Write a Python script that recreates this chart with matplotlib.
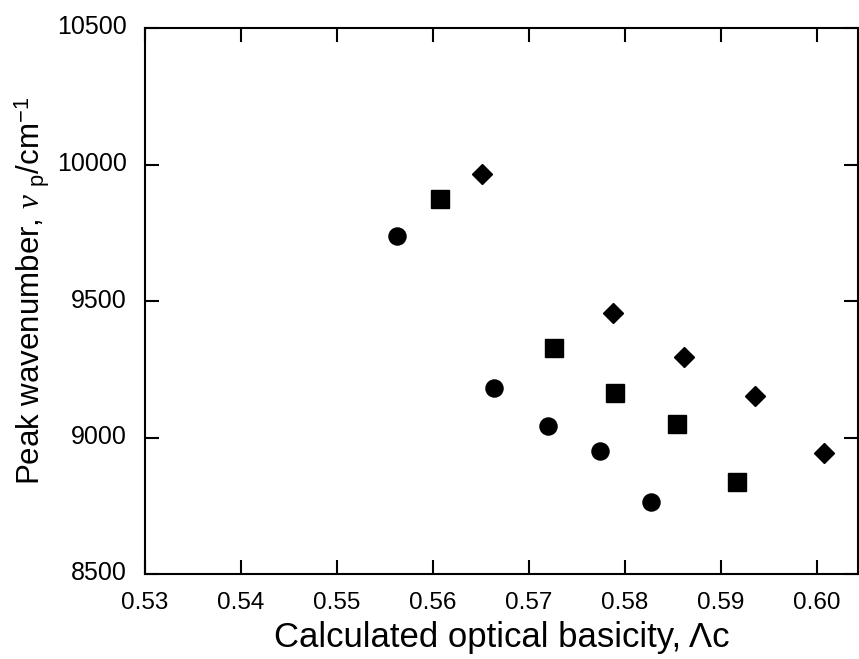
import matplotlib
matplotlib.use("Agg")
import matplotlib.pyplot as plt
from matplotlib.transforms import ScaledTranslation

circle_x = [0.5563, 0.5664, 0.5720, 0.5774, 0.5827]
circle_y = [9738, 9182, 9042, 8952, 8764]
square_x = [0.5607, 0.5726, 0.5790, 0.5854, 0.5917]
square_y = [9875, 9327, 9164, 9048, 8838]
diamond_x = [0.5651, 0.5788, 0.5862, 0.5936, 0.6008]
diamond_y = [9964, 9455, 9295, 9151, 8942]

x_ticks = [0.53, 0.54, 0.55, 0.56, 0.57, 0.58, 0.59, 0.60]
x_ticklabels = ["0.53", "0.54", "0.55", "0.56", "0.57", "0.58", "0.59", "0.60"]
y_ticks = [8500, 9000, 9500, 10000, 10500]
y_ticklabels = ["8500", "9000", "9500", "10000", "10500"]

plt.rcParams['font.family'] = ['Liberation Sans', 'DejaVu Sans']
plt.rcParams['mathtext.fontset'] = 'custom'
plt.rcParams['mathtext.rm'] = 'Liberation Sans'
plt.rcParams['mathtext.it'] = 'Liberation Serif:italic'

fig = plt.figure(figsize=(8.59, 6.59), dpi=100)
ax = fig.add_axes([145/859, 1-574/659, (858-145)/859, (574-28)/659])

ax.plot(circle_x, circle_y, 'o', color='black', markersize=12.3, linestyle='none')
ax.plot(square_x, square_y, 's', color='black', markersize=13, linestyle='none')
ax.plot(diamond_x, diamond_y, 'D', color='black', markersize=10, linestyle='none')

ax.set_xlim(0.53, 0.6043)
ax.set_ylim(8500, 10500)
ax.set_xticks(x_ticks)
ax.set_xticklabels(x_ticklabels, fontsize=17.5)
ax.set_yticks(y_ticks)
ax.set_yticklabels(y_ticklabels, fontsize=18)

for s in ax.spines.values():
    s.set_linewidth(1.5)
ax.tick_params(direction='in', length=10, width=1.5, top=True, right=True)
ax.tick_params(axis='x', pad=13)
ax.tick_params(axis='y', pad=13)

off = ScaledTranslation(0, 3/100, fig.dpi_scale_trans)
for lab in ax.get_yticklabels():
    lab.set_transform(lab.get_transform() + off)

ax.set_xlabel('Calculated optical basicity, Λc', fontsize=25, labelpad=5)
ax.set_ylabel(r'Peak wavenumber, $\mathit{\nu}$ $_{\rm p}$/cm$^{-1}$', fontsize=22.5, labelpad=4)
ax.yaxis.label.set_y(0.5 + 10/546)

fig.savefig('out.png', dpi=100)
